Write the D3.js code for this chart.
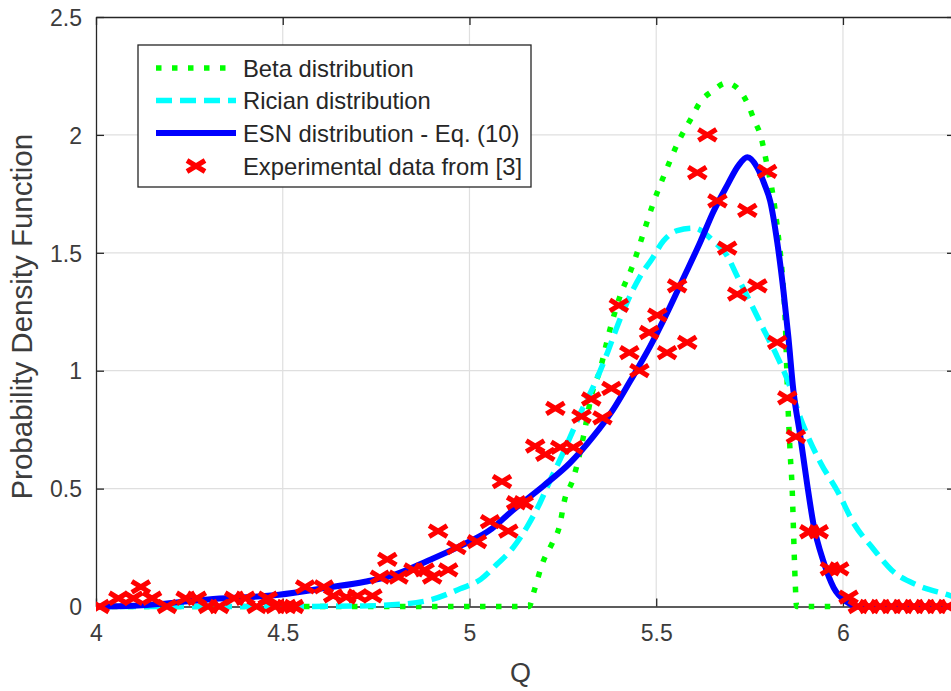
<!DOCTYPE html>
<html>
<head>
<meta charset="utf-8">
<script src="https://cdn.jsdelivr.net/npm/d3@7"></script>
<style>
  html, body { margin: 0; padding: 0; background: #ffffff; }
  svg { display: block; }
  text { font-family: "Liberation Sans", Arial, Helvetica, sans-serif; }
</style>
</head>
<body>
<div id="chart"></div>
<script>
// ---- Data (Q, probability density) ----
const betaCurve = [
  [4.0,0],[5.16,0],[5.171,0.055],[5.197,0.19],[5.222,0.27],[5.24,0.335],[5.256,0.46],
  [5.275,0.53],[5.288,0.60],[5.305,0.72],[5.329,0.91],[5.347,0.99],[5.377,1.18],
  [5.404,1.32],[5.438,1.45],[5.465,1.58],[5.492,1.71],[5.524,1.84],[5.556,1.96],
  [5.597,2.08],[5.618,2.14],[5.65,2.185],[5.688,2.22],[5.725,2.185],[5.747,2.125],
  [5.763,2.06],[5.779,2.0],[5.797,1.87],[5.813,1.74],[5.827,1.57],[5.838,1.40],
  [5.846,1.19],[5.851,0.93],[5.859,0.64],[5.864,0.50],[5.868,0.30],[5.872,0.11],
  [5.876,0],[5.99,0]
];

const ricianCurve = [
  [4.0,0],[4.5,0],[4.7,0.002],[4.82,0.01],[4.9,0.03],[4.975,0.075],[5.03,0.115],
  [5.074,0.18],[5.117,0.25],[5.155,0.34],[5.189,0.44],[5.216,0.535],[5.243,0.625],
  [5.27,0.72],[5.297,0.82],[5.331,0.93],[5.369,1.075],[5.396,1.19],[5.422,1.29],
  [5.457,1.40],[5.489,1.475],[5.519,1.55],[5.556,1.594],[5.6,1.605],[5.653,1.55],
  [5.69,1.487],[5.717,1.40],[5.752,1.29],[5.787,1.177],[5.824,1.06],[5.851,0.963],
  [5.886,0.80],[5.94,0.61],[5.985,0.49],[6.03,0.35],[6.081,0.245],[6.13,0.155],
  [6.2,0.09],[6.28,0.05],[6.3,0.04]
];

const esnCurve = [
  [4.0,0],[4.1,0.003],[4.3,0.03],[4.49,0.05],[4.62,0.08],[4.72,0.105],[4.79,0.13],
  [4.89,0.195],[4.98,0.26],[5.06,0.33],[5.11,0.40],[5.197,0.51],[5.27,0.61],
  [5.331,0.72],[5.385,0.836],[5.43,0.955],[5.484,1.104],[5.529,1.245],[5.572,1.39],
  [5.618,1.546],[5.653,1.674],[5.69,1.786],[5.72,1.87],[5.744,1.905],[5.771,1.86],
  [5.79,1.79],[5.805,1.72],[5.824,1.545],[5.841,1.334],[5.854,1.14],[5.867,0.92],
  [5.886,0.72],[5.904,0.52],[5.921,0.35],[5.948,0.19],[5.975,0.08],[6.01,0.02],
  [6.04,0],[6.3,0]
];

const experimental = [
  [4.01,0],[4.06,0.035],[4.10,0.035],[4.12,0.083],[4.15,0.035],[4.19,0],[4.24,0.035],
  [4.27,0.035],[4.30,0],[4.33,0],[4.37,0.035],[4.40,0.035],[4.43,0],[4.46,0.035],
  [4.48,0],[4.51,0],[4.53,0],[4.56,0.083],[4.61,0.083],[4.635,0.045],[4.67,0.04],
  [4.70,0.045],[4.74,0.045],[4.76,0.125],[4.78,0.2],[4.81,0.125],[4.85,0.155],
  [4.88,0.155],[4.90,0.125],[4.916,0.32],[4.943,0.155],[4.965,0.25],[5.02,0.275],
  [5.055,0.36],[5.087,0.53],[5.104,0.32],[5.125,0.44],[5.145,0.44],[5.176,0.68],
  [5.203,0.645],[5.23,0.84],[5.243,0.675],[5.278,0.675],[5.30,0.806],[5.326,0.88],
  [5.356,0.80],[5.38,0.925],[5.40,1.277],[5.428,1.077],[5.455,1.0],[5.481,1.162],
  [5.503,1.236],[5.529,1.077],[5.556,1.36],[5.583,1.12],[5.61,1.84],[5.637,2.0],
  [5.664,1.72],[5.69,1.52],[5.717,1.325],[5.744,1.68],[5.771,1.36],[5.797,1.845],
  [5.824,1.12],[5.851,0.885],[5.874,0.72],[5.91,0.317],[5.935,0.317],[5.965,0.16],
  [5.99,0.16],[6.015,0.04],[6.04,0],[6.07,0],[6.10,0],[6.13,0],[6.16,0],[6.19,0],
  [6.22,0],[6.25,0],[6.28,0]
];

const xTicks = [4, 4.5, 5, 5.5, 6];
const yTicks = [0, 0.5, 1, 1.5, 2, 2.5];
const xTickLabels = ["4", "4.5", "5", "5.5", "6"];
const yTickLabels = ["0", "0.5", "1", "1.5", "2", "2.5"];
const legendLabels = ["Beta distribution", "Rician distribution",
  "ESN distribution - Eq. (10)", "Experimental data from [3]"];

// ---- Layout ----
const W = 951, H = 691;
const plot = { left: 96, right: 955, top: 17, bottom: 606.5 };
const axisColor = "#262626";

const svg = d3.select("#chart").append("svg")
  .attr("width", W).attr("height", H);

const x = d3.scaleLinear().domain([4, 6.3]).range([plot.left, plot.right]);
const y = d3.scaleLinear().domain([0, 2.5]).range([plot.bottom, plot.top]);

// clip to axes area
svg.append("defs").append("clipPath").attr("id", "plotClip")
  .append("rect")
  .attr("x", plot.left).attr("y", plot.top - 10)
  .attr("width", plot.right - plot.left).attr("height", plot.bottom - plot.top + 20);

// grid
const grid = svg.append("g");
grid.selectAll("line.gx").data(xTicks.filter(d => d > 4)).join("line")
  .attr("x1", d => x(d)).attr("x2", d => x(d))
  .attr("y1", plot.top).attr("y2", plot.bottom)
  .attr("stroke", "#dfdfdf").attr("stroke-width", 1.2);
grid.selectAll("line.gy").data(yTicks.filter(d => d > 0 && d < 2.5)).join("line")
  .attr("x1", plot.left).attr("x2", plot.right)
  .attr("y1", d => y(d)).attr("y2", d => y(d))
  .attr("stroke", "#dfdfdf").attr("stroke-width", 1.2);

// axes with inward ticks
const fmtX = (d, i) => xTickLabels[i];
const fmtY = (d, i) => yTickLabels[i];
const bottomAxis = svg.append("g").attr("transform", `translate(0,${plot.bottom})`)
  .call(d3.axisBottom(x).tickValues(xTicks).tickFormat(fmtX).tickSizeInner(-8).tickSizeOuter(0).tickPadding(18));
const topAxis = svg.append("g").attr("transform", `translate(0,${plot.top})`)
  .call(d3.axisTop(x).tickValues(xTicks).tickFormat("").tickSizeInner(-8).tickSizeOuter(0));
const leftAxis = svg.append("g").attr("transform", `translate(${plot.left},0)`)
  .call(d3.axisLeft(y).tickValues(yTicks).tickFormat(fmtY).tickSizeInner(-8).tickSizeOuter(0).tickPadding(14));
const rightAxis = svg.append("g").attr("transform", `translate(${plot.right},0)`)
  .call(d3.axisRight(y).tickValues(yTicks).tickFormat("").tickSizeInner(-8).tickSizeOuter(0));

[bottomAxis, topAxis, leftAxis, rightAxis].forEach(g => {
  g.select(".domain").attr("stroke", axisColor).attr("stroke-width", 1.3);
  g.selectAll(".tick line").attr("stroke", axisColor).attr("stroke-width", 1.3);
  g.selectAll(".tick text").attr("fill", "#3c3c3c")
    .style("font-family", '"Liberation Sans", Arial, sans-serif')
    .style("font-size", "23px");
});
leftAxis.selectAll(".tick text").attr("dy", "0.36em");

// axis labels
svg.append("text")
  .attr("x", (plot.left + plot.right) / 2 - 5).attr("y", 682)
  .attr("text-anchor", "middle").attr("fill", "#3c3c3c")
  .style("font-size", "27px").text("Q");
svg.append("text")
  .attr("transform", `translate(32,${(plot.top + plot.bottom) / 2 + 5}) rotate(-90)`)
  .attr("text-anchor", "middle").attr("fill", "#3c3c3c")
  .style("font-size", "29.5px").text("Probability Density Function");

// series
const line = d3.line().x(d => x(d[0])).y(d => y(d[1])).curve(d3.curveMonotoneX);
const series = svg.append("g").attr("clip-path", "url(#plotClip)");

const styles = [
  { data: betaCurve,   color: "#00ff00", width: 5.5, dash: "5.5 10.5" },
  { data: ricianCurve, color: "#00ffff", width: 5.5, dash: "16 8" },
  { data: esnCurve,    color: "#0000ff", width: 6,   dash: null }
];
styles.forEach(s => {
  series.append("path").datum(s.data)
    .attr("d", line)
    .attr("fill", "none")
    .attr("stroke", s.color)
    .attr("stroke-width", s.width)
    .attr("stroke-dasharray", s.dash)
    .attr("stroke-linecap", "butt")
    .attr("stroke-linejoin", "round");
});

const xMark = "M-9,-5.5L9,5.5M-9,5.5L9,-5.5";
const markWidth = 5;
series.selectAll("path.exp").data(experimental).join("path")
  .attr("class", "exp")
  .attr("transform", d => `translate(${x(d[0])},${y(d[1])})`)
  .attr("d", xMark)
  .attr("fill", "none")
  .attr("stroke", "#ff0000")
  .attr("stroke-width", markWidth);

// legend
const lg = svg.append("g");
lg.append("rect")
  .attr("x", 138).attr("y", 45).attr("width", 393).attr("height", 142)
  .attr("fill", "#ffffff").attr("stroke", axisColor).attr("stroke-width", 1.3);
const rowY = [68, 100.5, 133, 166];
styles.forEach((s, i) => {
  lg.append("line")
    .attr("x1", 156).attr("x2", 236)
    .attr("y1", rowY[i]).attr("y2", rowY[i])
    .attr("stroke", s.color).attr("stroke-width", s.width)
    .attr("stroke-dasharray", s.dash);
});
lg.append("path")
  .attr("transform", `translate(196,${rowY[3]})`)
  .attr("d", xMark).attr("fill", "none")
  .attr("stroke", "#ff0000").attr("stroke-width", markWidth);
lg.selectAll("text.lbl").data(legendLabels).join("text")
  .attr("class", "lbl")
  .attr("x", 243).attr("y", (d, i) => rowY[i])
  .attr("dy", "0.36em").attr("fill", "#262626")
  .style("font-size", "23.8px")
  .text(d => d);
</script>
</body>
</html>
